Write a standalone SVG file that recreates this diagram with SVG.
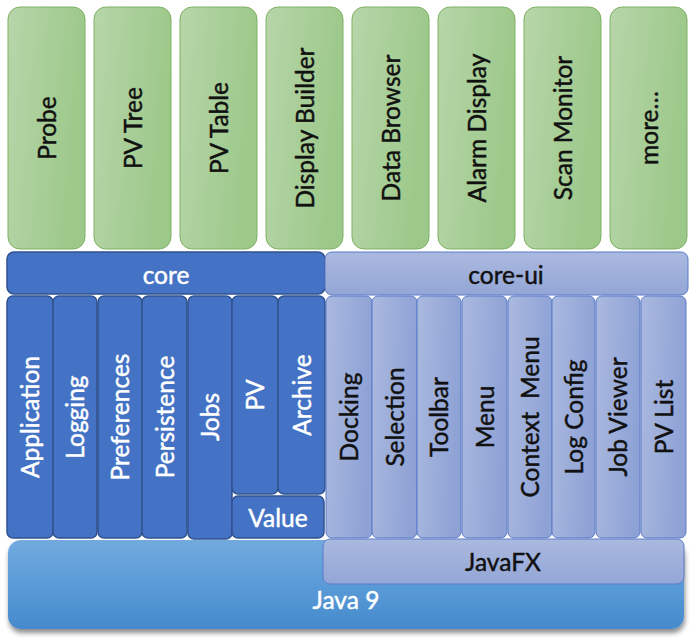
<svg xmlns="http://www.w3.org/2000/svg" width="696" height="641" viewBox="0 0 696 641">
  <defs>
    <linearGradient id="gGreen" x1="0" y1="0" x2="1" y2="0.25">
      <stop offset="0" stop-color="#b7d6aa"/>
      <stop offset="1" stop-color="#9cc889"/>
    </linearGradient>
    <linearGradient id="gUi" x1="0" y1="0" x2="1" y2="0.2">
      <stop offset="0" stop-color="#aab9df"/>
      <stop offset="1" stop-color="#8ea2d5"/>
    </linearGradient>
    <linearGradient id="gUiBar" x1="0" y1="0" x2="0" y2="1">
      <stop offset="0" stop-color="#aab9df"/>
      <stop offset="1" stop-color="#93a6d6"/>
    </linearGradient>
    <linearGradient id="gJava" x1="0" y1="0" x2="0" y2="1">
      <stop offset="0" stop-color="#72aade"/>
      <stop offset="0.5" stop-color="#5a9bd7"/>
      <stop offset="1" stop-color="#468acd"/>
    </linearGradient>
    <filter id="shadow" x="-5%" y="-10%" width="110%" height="130%">
      <feDropShadow dx="1" dy="4" stdDeviation="2.5" flood-color="#000" flood-opacity="0.45"/>
    </filter>
  </defs>
  <style>
    text { font-family: Lato, "Liberation Sans", sans-serif; font-size: 24.5px; text-anchor: middle; stroke-width: 0.45; }
    .app rect { fill: url(#gGreen); stroke: #7fb164; stroke-width: 1; }
    .app text { fill: #111; stroke: #111; }
    .core rect { fill: #4472c4; stroke: #2f528f; stroke-width: 1.5; }
    .core text { fill: #fff; stroke: #fff; }
    .ui rect { fill: url(#gUi); stroke: #5a7bc8; stroke-width: 1; }
    .ui text { fill: #111; stroke: #111; }
    .bar-ui rect { fill: url(#gUiBar); }
    #java9 text { fill: #fff; stroke: #fff; }
  </style>

  <!-- Java 9 platform -->
  <g id="java9">
    <rect x="8" y="540" width="676" height="89" rx="13" fill="url(#gJava)" filter="url(#shadow)"/>
    <text x="346" y="609">Java 9</text>
  </g>

  <!-- JavaFX -->
  <g id="javafx" class="ui bar-ui">
    <rect x="323" y="539" width="361" height="45" rx="7"/>
    <text x="503" y="571">JavaFX</text>
  </g>

  <!-- applications -->
  <g id="probe" class="app">
    <rect x="8" y="7" width="77" height="242" rx="12"/>
    <text transform="translate(46.5,128) rotate(-90)" y="9">Probe</text>
  </g>
  <g id="pv-tree" class="app">
    <rect x="94" y="7" width="77" height="242" rx="12"/>
    <text transform="translate(132.5,128) rotate(-90)" y="9">PV Tree</text>
  </g>
  <g id="pv-table" class="app">
    <rect x="180" y="7" width="77" height="242" rx="12"/>
    <text transform="translate(218.5,128) rotate(-90)" y="9">PV Table</text>
  </g>
  <g id="display-builder" class="app">
    <rect x="266" y="7" width="77" height="242" rx="12"/>
    <text transform="translate(304.5,128) rotate(-90)" y="9">Display Builder</text>
  </g>
  <g id="data-browser" class="app">
    <rect x="352" y="7" width="77" height="242" rx="12"/>
    <text transform="translate(390.5,128) rotate(-90)" y="9">Data Browser</text>
  </g>
  <g id="alarm-display" class="app">
    <rect x="438" y="7" width="77" height="242" rx="12"/>
    <text transform="translate(476.5,128) rotate(-90)" y="9">Alarm Display</text>
  </g>
  <g id="scan-monitor" class="app">
    <rect x="524" y="7" width="77" height="242" rx="12"/>
    <text transform="translate(562.5,128) rotate(-90)" y="9">Scan Monitor</text>
  </g>
  <g id="more" class="app">
    <rect x="610" y="7" width="77" height="242" rx="12"/>
    <text transform="translate(648.5,128) rotate(-90)" y="9">more…</text>
  </g>

  <!-- core -->
  <g id="core" class="core">
    <rect x="7" y="252" width="318" height="42" rx="7"/>
    <text x="166" y="284">core</text>
  </g>
  <g id="application" class="core">
    <rect x="7" y="296" width="46" height="242" rx="6"/>
    <text transform="translate(30,417) rotate(-90)" y="9">Application</text>
  </g>
  <g id="logging" class="core">
    <rect x="53" y="296" width="44" height="242" rx="6"/>
    <text transform="translate(75,417) rotate(-90)" y="9">Logging</text>
  </g>
  <g id="preferences" class="core">
    <rect x="98" y="296" width="44" height="242" rx="6"/>
    <text transform="translate(120,417) rotate(-90)" y="9">Preferences</text>
  </g>
  <g id="persistence" class="core">
    <rect x="142" y="296" width="45" height="242" rx="6"/>
    <text transform="translate(164.5,417) rotate(-90)" y="9">Persistence</text>
  </g>
  <g id="jobs" class="core">
    <rect x="188" y="296" width="44" height="243" rx="6"/>
    <text transform="translate(210,417) rotate(-90)" y="9">Jobs</text>
  </g>
  <g id="pv" class="core">
    <rect x="232" y="296" width="46" height="198" rx="6"/>
    <text transform="translate(255,395) rotate(-90)" y="9">PV</text>
  </g>
  <g id="archive" class="core">
    <rect x="278" y="296" width="47" height="198" rx="6"/>
    <text transform="translate(301.5,395) rotate(-90)" y="9">Archive</text>
  </g>
  <g id="value" class="core">
    <rect x="232" y="496" width="92" height="42" rx="6"/>
    <text x="278" y="527">Value</text>
  </g>

  <!-- core-ui -->
  <g id="core-ui" class="ui bar-ui">
    <rect x="325" y="252" width="363" height="43" rx="7"/>
    <text x="506" y="284">core-ui</text>
  </g>
  <g id="docking" class="ui">
    <rect x="326" y="296" width="46" height="242" rx="6"/>
    <text transform="translate(349,417) rotate(-90)" y="9">Docking</text>
  </g>
  <g id="selection" class="ui">
    <rect x="372" y="296" width="45" height="242" rx="6"/>
    <text transform="translate(394.5,417) rotate(-90)" y="9">Selection</text>
  </g>
  <g id="toolbar" class="ui">
    <rect x="417" y="296" width="44" height="242" rx="6"/>
    <text transform="translate(439,417) rotate(-90)" y="9">Toolbar</text>
  </g>
  <g id="menu" class="ui">
    <rect x="462" y="296" width="45" height="242" rx="6"/>
    <text transform="translate(484.5,417) rotate(-90)" y="9">Menu</text>
  </g>
  <g id="context-menu" class="ui">
    <rect x="508" y="296" width="44" height="242" rx="6"/>
    <text transform="translate(530,417) rotate(-90)" y="9" xml:space="preserve">Context  Menu</text>
  </g>
  <g id="log-config" class="ui">
    <rect x="552" y="296" width="43" height="242" rx="6"/>
    <text transform="translate(573.5,417) rotate(-90)" y="9">Log Config</text>
  </g>
  <g id="job-viewer" class="ui">
    <rect x="596" y="296" width="44" height="242" rx="6"/>
    <text transform="translate(618,417) rotate(-90)" y="9">Job Viewer</text>
  </g>
  <g id="pv-list" class="ui">
    <rect x="641" y="296" width="45" height="242" rx="6"/>
    <text transform="translate(663.5,417) rotate(-90)" y="9">PV List</text>
  </g>
</svg>
